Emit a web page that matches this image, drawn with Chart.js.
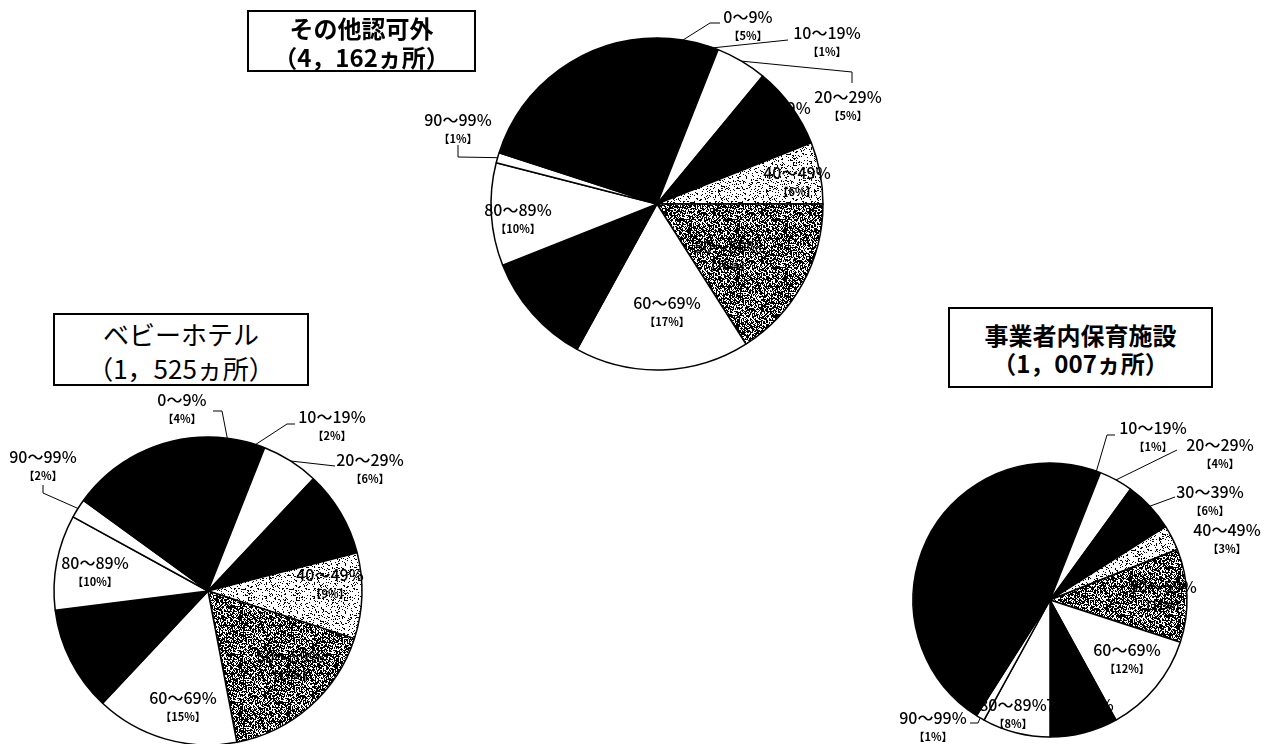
<!DOCTYPE html>
<html lang="ja">
<head>
<meta charset="utf-8">
<title>保育施設の円グラフ</title>
<script src="https://cdn.jsdelivr.net/npm/chart.js@4.4.1/dist/chart.umd.min.js"></script>
<style>
    html, body { margin: 0; padding: 0; background: #fff; overflow: hidden; }
    body { width: 1268px; height: 744px; position: relative; font-family: "Noto Sans CJK JP", sans-serif; color: #000; }
    .pie { position: absolute; width: 480px; height: 480px; }
    .title-box {
        position: absolute; z-index: 5; box-sizing: border-box;
        border: 2px solid #000; background: #fff; text-align: center;
    }
</style>
</head>
<body>

<div class="pie" style="left:417px; top:-36px;"><canvas id="otherChart"></canvas></div>
<div class="pie" style="left:-32px; top:351px;"><canvas id="hotelChart"></canvas></div>
<div class="pie" style="left:810px; top:360px;"><canvas id="workplaceChart"></canvas></div>

<div class="title-box" style="left:247px; top:10px; width:229px; height:62px; font-size:24px; font-weight:bold; line-height:29px; padding-top:1px;">その他認可外<br>（4，162ヵ所）</div>
<div class="title-box" style="left:53px; top:313px; width:256px; height:73px; font-size:26px; line-height:34px; padding-top:2px;">ベビーホテル<br>（1，525ヵ所）</div>
<div class="title-box" style="left:948px; top:307px; width:265px; height:81px; font-size:24px; font-weight:bold; line-height:28px; padding-top:12px;">事業者内保育施設<br>（1，007ヵ所）</div>

<script>
// Rate bands (same for all three charts)
const categories = ['0～9%', '10～19%', '20～29%', '30～39%', '40～49%', '50～59%',
                    '60～69%', '70～79%', '80～89%', '90～99%', '100%'];

// Share of facilities per band, in percent
const otherValues     = [5, 1, 5, 8, 6, 16, 17, 11, 10, 1, 20];
const hotelValues     = [4, 2, 6, 9, 9, 17, 15, 11, 10, 2, 15];
const workplaceValues = [5, 1, 4, 6, 3, 11, 12, 8, 8, 1, 41];

// Label placement per slice: text offset from pie centre, optional leader elbows
const otherLayout = [
    { at: [91, -187], lead: [[53, -181], [63, -181]] },
    { at: [170, -171], lead: [[131, -164]] },
    { at: [191, -107], lead: [[195, -132], [195, -121]] },
    { at: [120, -96] },
    { at: [140, -31] },
    { at: [71, 43] },
    { at: [10, 99] },
    { at: [-94, 78] },
    { at: [-139, 6] },
    { at: [-199, -84], lead: [[-199, -47], [-199, -59]] },
    { at: [-80, -80] }
];
const hotelLayout = [
    { at: [-26, -191], lead: [[14, -180], [5, -180]] },
    { at: [124, -174], lead: [[79, -167], [87, -167]] },
    { at: [162, -131], lead: [[127, -125]] },
    { at: [92, -52] },
    { at: [122, -16] },
    { at: [82, 66] },
    { at: [-25, 107] },
    { at: [-98, 49] },
    { at: [-113, -28] },
    { at: [-165, -134], lead: [[-165, -98], [-165, -106]] },
    { at: [-60, -110] }
];
const workplaceLayout = [
    { at: [-12, -95] },
    { at: [103, -172], lead: [[57, -165], [65, -165]] },
    { at: [170, -155], lead: [[127, -150]] },
    { at: [160, -108], lead: [[125, -103]] },
    { at: [177, -70] },
    { at: [113, -13] },
    { at: [77, 50] },
    { at: [30, 105] },
    { at: [-37, 105] },
    { at: [-117, 118], lead: [[-72, 123], [-80, 123]] },
    { at: [-70, -20] }
];

// Grainy grey fills (fixed hash, so the texture is the same on every load)
function speckle(density, seed) {
    const size = 48;
    const c = document.createElement('canvas');
    c.width = c.height = size;
    const g = c.getContext('2d');
    const img = g.createImageData(size, size);
    for (let y = 0; y < size; y++) {
        for (let x = 0; x < size; x++) {
            let h = Math.imul(x + 1, 73856093) ^ Math.imul(y + 1, 19349663) ^ seed;
            h = Math.imul(h ^ (h >>> 13), 1274126177);
            h = (h ^ (h >>> 16)) >>> 0;
            const v = (h % 1000) / 1000 < density ? 0 : 255;
            const k = (y * size + x) * 4;
            img.data[k] = img.data[k + 1] = img.data[k + 2] = v;
            img.data[k + 3] = 255;
        }
    }
    g.putImageData(img, 0, 0);
    return g.createPattern(c, 'repeat');
}

const BLACK = '#000000';
const WHITE = '#ffffff';
const LIGHT = speckle(0.17, 12345);
const DARK = speckle(0.6, 67890);
const sliceFills = [BLACK, BLACK, WHITE, BLACK, LIGHT, DARK, WHITE, BLACK, WHITE, WHITE, BLACK];

// Two-line slice labels: band name and 【share】, with leader lines where needed
const sliceLabels = {
    id: 'sliceLabels',
    afterDatasetsDraw(chart, args, opts) {
        const ctx = chart.ctx;
        const meta = chart.getDatasetMeta(0);
        const values = chart.data.datasets[0].data;
        const labels = chart.data.labels;
        const cx = meta.data[0].x;
        const cy = meta.data[0].y;
        ctx.save();
        ctx.fillStyle = '#000';
        ctx.strokeStyle = '#000';
        ctx.lineWidth = 1;
        ctx.textAlign = 'center';
        ctx.textBaseline = 'middle';
        meta.data.forEach((arc, i) => {
            const spot = opts.layout[i];
            if (!spot) return;
            if (spot.lead) {
                const mid = (arc.startAngle + arc.endAngle) / 2;
                ctx.beginPath();
                ctx.moveTo(cx + Math.cos(mid) * arc.outerRadius, cy + Math.sin(mid) * arc.outerRadius);
                spot.lead.forEach(p => ctx.lineTo(cx + p[0], cy + p[1]));
                ctx.stroke();
            }
            const x = cx + spot.at[0];
            const y = cy + spot.at[1];
            ctx.font = '500 16px "Noto Sans CJK JP"';
            ctx.fillText(labels[i], x, y);
            ctx.font = 'bold 11px "Noto Sans CJK JP"';
            ctx.fillText('【' + values[i] + '%】', x, y + 19);
        });
        ctx.restore();
    }
};

function makePie(id, values, radius, layout) {
    const ctx = document.getElementById(id).getContext('2d');
    return new Chart(ctx, {
        type: 'pie',
        data: {
            labels: categories,
            datasets: [{
                data: values,
                backgroundColor: sliceFills,
                borderColor: '#000',
                borderWidth: 1.5
            }]
        },
        options: {
            responsive: true,
            maintainAspectRatio: false,
            animation: false,
            radius: radius,
            layout: { padding: 0 },
            plugins: {
                legend: { display: false },
                tooltip: { enabled: false },
                sliceLabels: { layout: layout }
            }
        },
        plugins: [sliceLabels]
    });
}

makePie('otherChart', otherValues, 166, otherLayout);
makePie('hotelChart', hotelValues, 154, hotelLayout);
makePie('workplaceChart', workplaceValues, 137, workplaceLayout);
</script>
</body>
</html>
